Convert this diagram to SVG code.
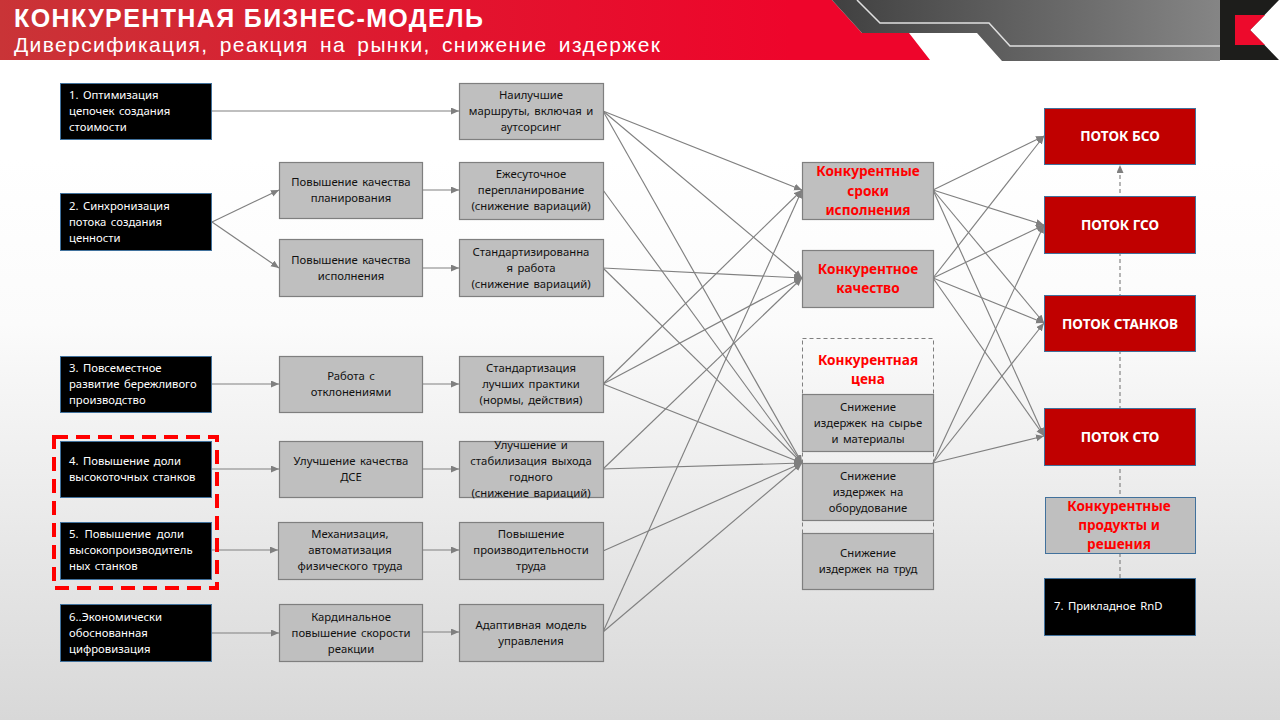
<svg xmlns="http://www.w3.org/2000/svg" width="1280" height="720" viewBox="0 0 1280 720">
<style>
text{font-family:"Noto Sans","Open Sans","DejaVu Sans",sans-serif;font-size:11.3px;word-spacing:1.5px}
.m{text-anchor:middle;fill:#111}
.w{fill:#fff}
.b{fill:#000;stroke:#41719c;stroke-width:1}
.g{fill:#bfbfbf;stroke:#7f7f7f;stroke-width:1.2}
.g2{fill:#bfbfbf;stroke:#41719c;stroke-width:1}
.r{fill:#c00000;stroke:#41719c;stroke-width:1}
.rt{text-anchor:middle;fill:#f00;font-weight:700;font-size:13.6px;word-spacing:0}
.wt{text-anchor:middle;fill:#fff;font-weight:700;font-size:13.6px;word-spacing:0}
.c line{stroke:#808080;stroke-width:1.15;marker-end:url(#a)}
.c line.d{marker-end:url(#a)}
.d{stroke:#7f7f7f;stroke-width:1;stroke-dasharray:4 3;fill:none}
.h{font-family:"Liberation Sans",Arial,sans-serif;fill:#fff}
</style>
<defs>
<linearGradient id="bg" x1="0" y1="0" x2="0" y2="1"><stop offset="0" stop-color="#fff"/><stop offset=".22" stop-color="#fff"/><stop offset=".45" stop-color="#fbfbfb"/><stop offset="1" stop-color="#d8d8d8"/></linearGradient>
<linearGradient id="rd" gradientUnits="userSpaceOnUse" x1="0" y1="0" x2="930" y2="0"><stop offset="0" stop-color="#c93437"/><stop offset=".5" stop-color="#e2142e"/><stop offset=".85" stop-color="#ee052b"/></linearGradient>
<linearGradient id="gy" gradientUnits="userSpaceOnUse" x1="832" y1="0" x2="1220" y2="0"><stop offset="0" stop-color="#404040"/><stop offset="1" stop-color="#858585"/></linearGradient>
<marker id="a" markerUnits="userSpaceOnUse" markerWidth="9" markerHeight="8" refX="8" refY="3.5" orient="auto"><path d="M0 0L8 3.5L0 7z" fill="#7f7f7f"/></marker>
</defs>
<rect width="1280" height="720" fill="url(#bg)"/>
<g id="header">
<polygon points="0,0 832,0 862,33 909,33 930,60 0,60" fill="url(#rd)"/>
<polygon points="832,0 1220,0 1220,61 1002,61 977,33 862,33" fill="url(#gy)"/>
<polyline points="857,0 880,23 989,23 1010,46 1220,46" fill="none" stroke="#e0e0e0" stroke-width="1.5"/>
<polygon points="1220,0 1279,0 1250,30 1279,60 1220,60" fill="#1d1d1b"/>
<polygon points="1235,15 1265,15 1250,30 1265,45 1235,45" fill="#ed0a2c"/>
<text class="h" x="14" y="26.5" textLength="469" style="font-size:25px;font-weight:700;word-spacing:0">КОНКУРЕНТНАЯ БИЗНЕС-МОДЕЛЬ</text>
<text class="h" x="14" y="52" textLength="646" style="font-size:21px;word-spacing:4px">Диверсификация, реакция на рынки, снижение издержек</text>
</g>
<g id="connectors" class="c">
<line x1="212" y1="111" x2="459" y2="111"/>
<line x1="212" y1="222" x2="279" y2="190"/>
<line x1="212" y1="222" x2="279" y2="268"/>
<line x1="212" y1="384" x2="279" y2="384"/>
<line x1="212" y1="469" x2="279" y2="469"/>
<line x1="212" y1="550" x2="278" y2="550"/>
<line x1="212" y1="633" x2="279" y2="633"/>
<line x1="422" y1="190" x2="459" y2="190"/>
<line x1="422" y1="268" x2="459" y2="268"/>
<line x1="422" y1="384" x2="459" y2="384"/>
<line x1="422" y1="469" x2="459" y2="469"/>
<line x1="422" y1="550" x2="459" y2="550"/>
<line x1="422" y1="632" x2="459" y2="632"/>
<line x1="603" y1="111" x2="802" y2="190"/>
<line x1="603" y1="111" x2="802" y2="278"/>
<line x1="603" y1="111" x2="802" y2="463"/>
<line x1="603" y1="190" x2="802" y2="463"/>
<line x1="603" y1="268" x2="802" y2="278"/>
<line x1="603" y1="268" x2="802" y2="463"/>
<line x1="603" y1="384" x2="802" y2="190"/>
<line x1="603" y1="384" x2="802" y2="278"/>
<line x1="603" y1="384" x2="802" y2="463"/>
<line x1="603" y1="469" x2="802" y2="278"/>
<line x1="603" y1="469" x2="802" y2="463"/>
<line x1="603" y1="551" x2="802" y2="463"/>
<line x1="603" y1="632" x2="802" y2="190"/>
<line x1="603" y1="632" x2="802" y2="463"/>
<line x1="933" y1="190" x2="1044" y2="136"/>
<line x1="933" y1="190" x2="1044" y2="225"/>
<line x1="933" y1="190" x2="1044" y2="323"/>
<line x1="933" y1="190" x2="1044" y2="436"/>
<line x1="933" y1="278" x2="1044" y2="136"/>
<line x1="933" y1="278" x2="1044" y2="225"/>
<line x1="933" y1="278" x2="1044" y2="323"/>
<line x1="933" y1="278" x2="1044" y2="436"/>
<line x1="933" y1="463" x2="1044" y2="225"/>
<line x1="933" y1="463" x2="1044" y2="323"/>
<line x1="933" y1="463" x2="1044" y2="436"/>
<line class="d" x1="1120" y1="578" x2="1120" y2="165"/>
</g>
<g id="n1"><rect class="b" x="60.5" y="83.5" width="151" height="56"/><text class="w" x="69" y="99">1. Оптимизация</text><text class="w" x="69" y="115">цепочек создания</text><text class="w" x="69" y="131">стоимости</text></g>
<g id="n2"><rect class="b" x="60.5" y="193.5" width="151" height="57"/><text class="w" x="69" y="210">2. Синхронизация</text><text class="w" x="69" y="226">потока создания</text><text class="w" x="69" y="242">ценности</text></g>
<g id="n3"><rect class="b" x="60.5" y="356.5" width="151" height="56"/><text class="w" x="69" y="372">3. Повсеместное</text><text class="w" x="69" y="388">развитие бережливого</text><text class="w" x="69" y="404">производство</text></g>
<g id="n4"><rect class="b" x="60.5" y="441.5" width="151" height="56"/><text class="w" x="69" y="465">4. Повышение доли</text><text class="w" x="69" y="481">высокоточных станков</text></g>
<g id="n5"><rect class="b" x="60.5" y="522.5" width="151" height="57"/><text class="w" x="69" y="538" style="word-spacing:3px">5. Повышение доли</text><text class="w" x="69" y="554">высокопроизводитель</text><text class="w" x="69" y="570">ных станков</text></g>
<g id="n6"><rect class="b" x="60.5" y="604.5" width="151" height="57"/><text class="w" x="69" y="621">6..Экономически</text><text class="w" x="69" y="637">обоснованная</text><text class="w" x="69" y="653">цифровизация</text></g>
<rect id="highlight" x="54" y="437" width="163" height="151" fill="none" stroke="#f00" stroke-width="4" stroke-dasharray="14 8"/>
<g id="p1"><rect class="g" x="279.5" y="162.5" width="143" height="56"/><text class="m" x="351" y="186">Повышение качества</text><text class="m" x="351" y="202">планирования</text></g>
<g id="p2"><rect class="g" x="279.5" y="239.5" width="143" height="57"/><text class="m" x="351" y="264">Повышение качества</text><text class="m" x="351" y="280">исполнения</text></g>
<g id="p3"><rect class="g" x="279.5" y="356.5" width="143" height="56"/><text class="m" x="351" y="380">Работа с</text><text class="m" x="351" y="396">отклонениями</text></g>
<g id="p4"><rect class="g" x="279.5" y="441.5" width="143" height="56"/><text class="m" x="351" y="465">Улучшение качества</text><text class="m" x="351" y="481">ДСЕ</text></g>
<g id="p5"><rect class="g" x="278.5" y="522.5" width="144" height="57"/><text class="m" x="350" y="538">Механизация,</text><text class="m" x="350" y="554">автоматизация</text><text class="m" x="350" y="570">физического труда</text></g>
<g id="p6"><rect class="g" x="279.5" y="604.5" width="143" height="57"/><text class="m" x="351" y="621">Кардинальное</text><text class="m" x="351" y="637">повышение скорости</text><text class="m" x="351" y="653">реакции</text></g>
<g id="q1"><rect class="g" x="459.5" y="83.5" width="144" height="56"/><text class="m" x="531" y="99">Наилучшие</text><text class="m" x="531" y="115">маршруты, включая и</text><text class="m" x="531" y="131">аутсорсинг</text></g>
<g id="q2"><rect class="g" x="459.5" y="162.5" width="144" height="57"/><text class="m" x="531" y="178">Ежесуточное</text><text class="m" x="531" y="194">перепланирование</text><text class="m" x="531" y="210">(снижение вариаций)</text></g>
<g id="q3"><rect class="g" x="459.5" y="239.5" width="144" height="57"/><text class="m" x="531" y="256">Стандартизированна</text><text class="m" x="531" y="272">я работа</text><text class="m" x="531" y="288">(снижение вариаций)</text></g>
<g id="q4"><rect class="g" x="459.5" y="356.5" width="144" height="56"/><text class="m" x="531" y="372">Стандартизация</text><text class="m" x="531" y="388">лучших практики</text><text class="m" x="531" y="404">(нормы, действия)</text></g>
<g id="q5"><rect class="g" x="459.5" y="441.5" width="144" height="56"/><text class="m" x="531" y="449">Улучшение и</text><text class="m" x="531" y="465">стабилизация выхода</text><text class="m" x="531" y="481">годного</text><text class="m" x="531" y="497">(снижение вариаций)</text></g>
<g id="q6"><rect class="g" x="459.5" y="522.5" width="144" height="57"/><text class="m" x="531" y="538">Повышение</text><text class="m" x="531" y="554">производительности</text><text class="m" x="531" y="570">труда</text></g>
<g id="q7"><rect class="g" x="459.5" y="604.5" width="144" height="57"/><text class="m" x="531" y="629">Адаптивная модель</text><text class="m" x="531" y="645">управления</text></g>
<g id="c1"><rect class="g" x="802.5" y="162.5" width="131" height="57"/><text class="rt" x="868" y="176">Конкурентные</text><text class="rt" x="868" y="196">сроки</text><text class="rt" x="868" y="215">исполнения</text></g>
<g id="c2"><rect class="g" x="802.5" y="250.5" width="131" height="57"/><text class="rt" x="868" y="274">Конкурентное</text><text class="rt" x="868" y="293">качество</text></g>
<g id="c3"><rect class="d" x="802.5" y="338.5" width="131" height="250"/><text class="rt" x="868" y="365">Конкурентная</text><text class="rt" x="868" y="384">цена</text></g>
<g id="c3a"><rect class="g" x="802.5" y="394.5" width="131" height="57"/><text class="m" x="868" y="411">Снижение</text><text class="m" x="868" y="427">издержек на сырье</text><text class="m" x="868" y="443">и материалы</text></g>
<g id="c3b"><rect class="g" x="802.5" y="463.5" width="131" height="57"/><text class="m" x="868" y="480">Снижение</text><text class="m" x="868" y="496">издержек на</text><text class="m" x="868" y="512">оборудование</text></g>
<g id="c3c"><rect class="g" x="802.5" y="533.5" width="131" height="56"/><text class="m" x="868" y="557">Снижение</text><text class="m" x="868" y="573">издержек на труд</text></g>
<g id="s1"><rect class="r" x="1044.5" y="108.5" width="151" height="56"/><text class="wt" x="1120" y="141">ПОТОК БСО</text></g>
<g id="s2"><rect class="r" x="1044.5" y="196.5" width="151" height="57"/><text class="wt" x="1120" y="230">ПОТОК ГСО</text></g>
<g id="s3"><rect class="r" x="1044.5" y="295.5" width="151" height="56"/><text class="wt" x="1120" y="329">ПОТОК СТАНКОВ</text></g>
<g id="s4"><rect class="r" x="1044.5" y="408.5" width="151" height="57"/><text class="wt" x="1120" y="442">ПОТОК СТО</text></g>
<g id="s5"><rect class="g2" x="1045.5" y="497.5" width="150" height="56"/><text class="rt" x="1119" y="511">Конкурентные</text><text class="rt" x="1119" y="530">продукты и</text><text class="rt" x="1119" y="549">решения</text></g>
<g id="s6"><rect class="b" x="1044.5" y="578.5" width="151" height="57"/><text class="w" x="1054" y="610">7. Прикладное RnD</text></g>
</svg>
